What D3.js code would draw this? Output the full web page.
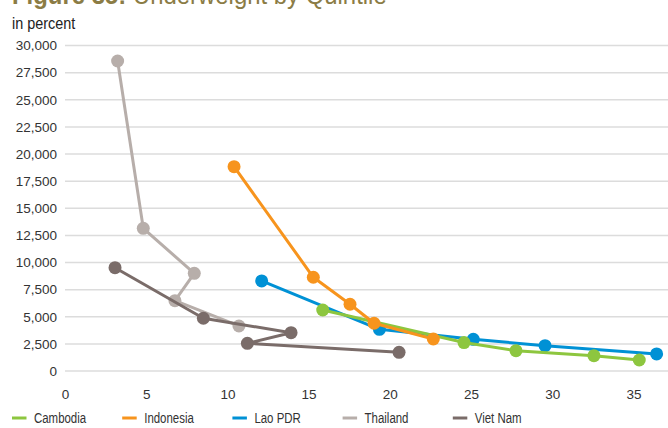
<!DOCTYPE html>
<html>
<head>
<meta charset="utf-8">
<script src="https://cdn.jsdelivr.net/npm/d3@7"></script>
<style>
  body { margin: 0; background: #fff; }
  svg { display: block; }
  text { font-family: "Liberation Sans", Arial, sans-serif; }
</style>
</head>
<body>
<script>
// underweight by quintile, x = percent underweight, y = count
var countries = ["Cambodia", "Indonesia", "Lao PDR", "Thailand", "Viet Nam"];
var colors = ["#8dc63f", "#f7941d", "#0091d5", "#b7aeaa", "#7a6c69"];

var cambodiaX = [15.87, 24.57, 27.77, 32.57, 35.36];
var cambodiaY = [5620, 2620, 1870, 1410, 1015];
var indonesiaX = [10.41, 15.29, 17.55, 19.03, 22.68];
var indonesiaY = [18830, 8640, 6150, 4400, 2950];
var laoX = [12.11, 19.36, 25.14, 29.56, 36.43];
var laoY = [8300, 3840, 2920, 2330, 1570];
var thailandX = [3.24, 4.82, 7.96, 6.77, 10.71];
var thailandY = [28570, 13150, 9000, 6480, 4150];
var vietnamX = [3.08, 8.52, 13.92, 11.23, 20.57];
var vietnamY = [9520, 4860, 3530, 2550, 1720];

var xTicks = [0, 5, 10, 15, 20, 25, 30, 35];
var yTicks = [0, 2500, 5000, 7500, 10000, 12500, 15000, 17500, 20000, 22500, 25000, 27500, 30000];

var series = [
  { name: "Lao PDR", xs: laoX, ys: laoY, color: colors[2] },
  { name: "Cambodia", xs: cambodiaX, ys: cambodiaY, color: colors[0] },
  { name: "Indonesia", xs: indonesiaX, ys: indonesiaY, color: colors[1] },
  { name: "Thailand", xs: thailandX, ys: thailandY, color: colors[3] },
  { name: "Viet Nam", xs: vietnamX, ys: vietnamY, color: colors[4] }
];

var width = 668, height = 428;
var margin = { top: 45.5, right: 0, bottom: 57, left: 65 };

var svg = d3.select("body")
  .append("svg")
  .attr("width", width)
  .attr("height", height);

var xScale = d3.scaleLinear()
  .domain([0, 37.13])
  .range([margin.left, width - margin.right]);

var yScale = d3.scaleLinear()
  .domain([0, 30000])
  .range([height - margin.bottom, margin.top]);

// title, mostly cut off at the top (as in the source)
var title = svg.append("text")
  .attr("transform", "translate(12,4) scale(0.92,1)")
  .style("font-size", "26px")
  .style("fill", "#8b7c45");
title.append("tspan").style("font-weight", "bold").text("Figure 35: ");
title.append("tspan").text("Underweight by Quintile");

svg.append("text")
  .attr("transform", "translate(12,29) scale(0.9,1)")
  .style("font-size", "16px")
  .style("fill", "#222")
  .text("in percent");

// gridlines
svg.append("g")
  .selectAll("line")
  .data(yTicks)
  .enter()
  .append("line")
  .attr("x1", margin.left)
  .attr("x2", width)
  .attr("y1", function(d) { return yScale(d); })
  .attr("y2", function(d) { return yScale(d); })
  .attr("stroke", "#dcdcdc")
  .attr("stroke-width", 1.5);

var yAxis = svg.append("g")
  .attr("transform", "translate(" + (margin.left - 8) + ",0)")
  .call(d3.axisLeft(yScale).tickValues(yTicks).tickSize(0).tickFormat(d3.format(",")));
yAxis.select(".domain").remove();
yAxis.selectAll("text")
  .attr("x", 0)
  .style("font-size", "13.5px")
  .style("fill", "#333");

var xAxis = svg.append("g")
  .attr("transform", "translate(0," + (height - margin.bottom) + ")")
  .call(d3.axisBottom(xScale).tickValues(xTicks).tickSize(0));
xAxis.select(".domain").remove();
xAxis.selectAll("text")
  .attr("y", 18)
  .style("font-size", "13.5px")
  .style("fill", "#333");

var line = d3.line()
  .x(function(d) { return xScale(d[0]); })
  .y(function(d) { return yScale(d[1]); });

series.forEach(function(s) {
  var pts = s.xs.map(function(x, i) { return [x, s.ys[i]]; });
  var g = svg.append("g");
  g.append("path")
    .datum(pts)
    .attr("d", line)
    .attr("fill", "none")
    .attr("stroke", s.color)
    .attr("stroke-width", 3)
    .attr("stroke-linejoin", "round");
  g.selectAll("circle")
    .data(pts)
    .enter()
    .append("circle")
    .attr("cx", function(d) { return xScale(d[0]); })
    .attr("cy", function(d) { return yScale(d[1]); })
    .attr("r", 6.5)
    .attr("fill", s.color);
});

// legend
var legend = svg.append("g")
  .selectAll("g")
  .data(countries)
  .enter()
  .append("g")
  .attr("transform", function(d, i) { return "translate(" + (12 + i * 110.2) + ",418)"; });

legend.append("line")
  .attr("x1", 0)
  .attr("x2", 14.5)
  .attr("stroke", function(d, i) { return colors[i]; })
  .attr("stroke-width", 3);

legend.append("text")
  .attr("transform", "translate(22,0) scale(0.79,1)")
  .attr("dy", "0.35em")
  .style("font-size", "14.5px")
  .style("fill", "#333")
  .text(function(d) { return d; });
</script>
</body>
</html>
